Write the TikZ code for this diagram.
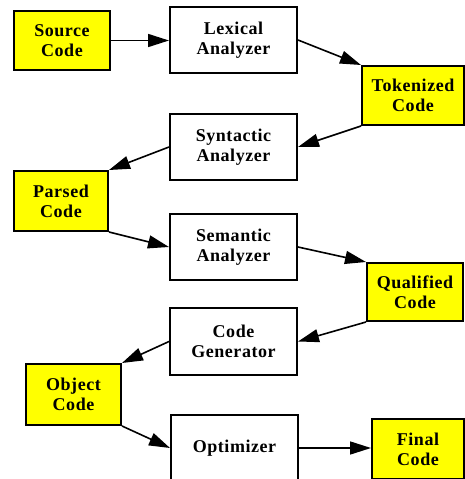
\documentclass[tikz,border=0pt]{standalone}
\usepackage{fontspec}
\setmainfont[LetterSpace=3]{Liberation Serif}
\usetikzlibrary{arrows.meta}
\definecolor{boxyellow}{HTML}{FFFF00}
\begin{document}
\begin{tikzpicture}[x=1pt,y=-1pt,
  box/.style={draw=black,line width=2pt,rectangle,inner sep=0pt,align=center,
    font=\fontsize{18}{20}\selectfont\bfseries},
  databox/.style={box,fill=boxyellow},
  procbox/.style={box,fill=white},
  flow/.style={line width=1.6pt,-{Triangle[length=21pt,width=13pt]}}]
\useasboundingbox (0,0) rectangle (465,479);
\clip (0,0) rectangle (465,479);
\node[databox,minimum width=96pt,minimum height=59pt] (src) at (62,40.5) {Source\\Code};
\node[procbox,minimum width=127pt,minimum height=66pt] (lex) at (233.5,40) {Lexical\\Analyzer};
\node[databox,minimum width=102pt,minimum height=59pt] (tok) at (413,95.5) {Tokenized\\Code};
\node[procbox,minimum width=127pt,minimum height=66pt] (syn) at (233.5,147) {Syntactic\\Analyzer};
\node[databox,minimum width=94pt,minimum height=60pt] (par) at (61,201) {Parsed\\Code};
\node[procbox,minimum width=127pt,minimum height=66pt] (sem) at (233.5,247) {Semantic\\Analyzer};
\node[databox,minimum width=96pt,minimum height=58pt] (qua) at (415,292) {Qualified\\Code};
\node[procbox,minimum width=127pt,minimum height=67pt] (gen) at (233.5,341.5) {Code\\Generator};
\node[databox,minimum width=95pt,minimum height=61pt] (obj) at (73.5,394.5) {Object\\Code};
\node[procbox,minimum width=127pt,minimum height=66pt] (opt) at (234.5,448) {Optimizer};
\node[databox,minimum width=92pt,minimum height=60pt] (fin) at (418,449) {Final\\Code};
\draw[flow] (src.east) -- (src.east -| lex.west);
\draw[flow] (lex.east) -- (tok.north west);
\draw[flow] (tok.south west) -- (syn.east);
\draw[flow] (syn.west) -- (par.north east);
\draw[flow] (par.south east) -- (sem.west);
\draw[flow] (sem.east) -- (qua.north west);
\draw[flow] (qua.south west) -- (gen.east);
\draw[flow] (gen.west) -- (obj.north east);
\draw[flow] (obj.south east) -- (opt.west);
\draw[flow] (opt.east) -- (opt.east -| fin.west);
\end{tikzpicture}
\end{document}
